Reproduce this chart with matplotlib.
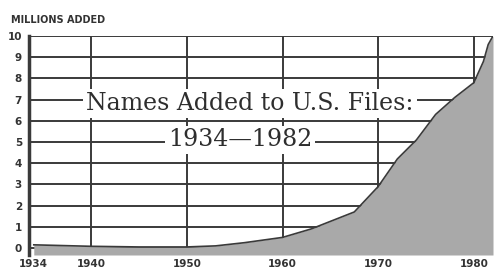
import matplotlib.pyplot as plt

years = [1934, 1940, 1945, 1950, 1953, 1956, 1960, 1963, 1967.5, 1970,
         1972, 1974, 1976, 1978, 1980, 1981, 1981.5, 1982]
millions = [0.15, 0.08, 0.05, 0.05, 0.1, 0.25, 0.5, 0.9, 1.7, 2.9,
            4.2, 5.1, 6.3, 7.1, 7.8, 8.8, 9.6, 10.0]

xticks = [1934, 1940, 1950, 1960, 1970, 1980]
yticks = list(range(0, 11))

ink = "#3a3a3a"

fig = plt.figure(figsize=(4.98, 2.69), dpi=100)
ax = fig.add_axes([29 / 498, 14 / 269, 464 / 498, 219 / 269])
ax.set_xlim(1933.5, 1982)
ax.set_ylim(-0.33, 10)

for v in yticks:
    ax.axhline(v, color=ink, lw=1.4, zorder=1)
for x in xticks[1:]:
    ax.axvline(x, color=ink, lw=1.4, zorder=1)

ax.fill_between(years, -0.33, millions, color="#a9a9a9", zorder=2, lw=0)
ax.plot(years, millions, color=ink, lw=1.2, zorder=3)

for s in ["top", "right", "bottom"]:
    ax.spines[s].set_visible(False)
ax.spines["left"].set_color(ink)
ax.spines["left"].set_linewidth(2.5)

ax.set_xticks(xticks)
ax.set_yticks(yticks)
ax.tick_params(length=0, labelsize=7.5, colors="#333333", pad=5)
for lab in ax.get_xticklabels() + ax.get_yticklabels():
    lab.set_fontweight("bold")
ax.tick_params(axis="x", pad=3)
ax.get_xticklabels()[0].set_x(1933.2)

box = dict(facecolor="white", edgecolor="none", pad=2)
ax.text(1956.6, 6.82, "Names Added to U.S. Files:", ha="center", va="center",
        family="DejaVu Serif", fontsize=17, color="#2e2e2e", bbox=box, zorder=4)
ax.text(1955.6, 5.1, "1934\u20141982", ha="center", va="center",
        family="DejaVu Serif", fontsize=17, color="#2e2e2e", bbox=box, zorder=4)

fig.text(11 / 498, 1 - 20 / 269, "MILLIONS ADDED", fontsize=7, fontweight="bold",
         color="#333333", va="center")

fig.savefig("out.png", dpi=100)
